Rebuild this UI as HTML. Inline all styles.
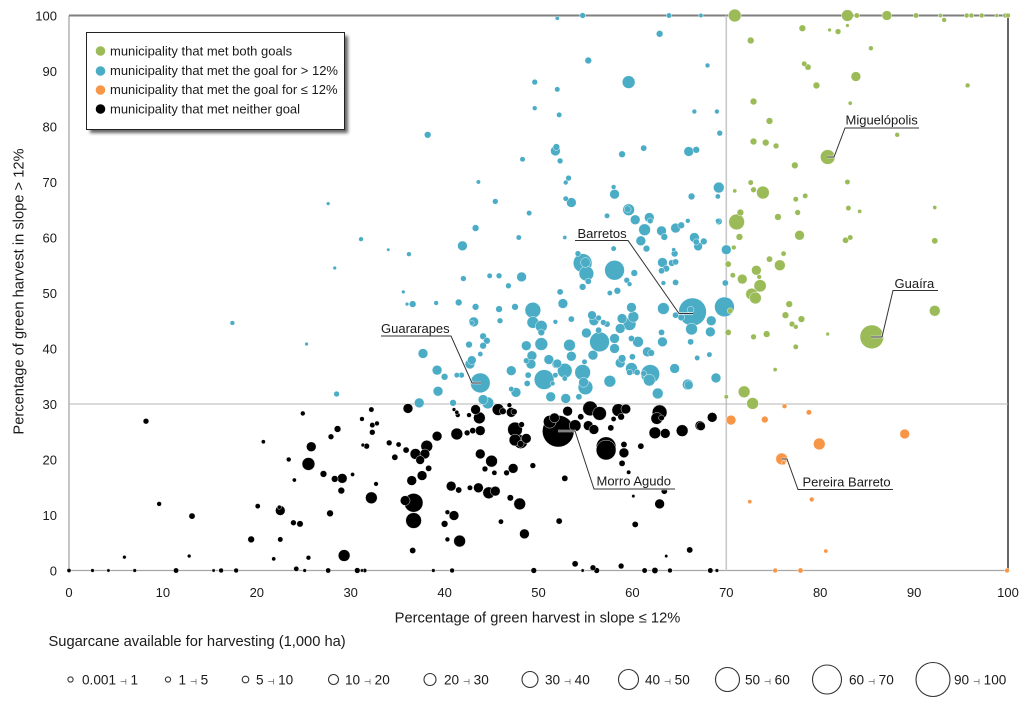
<!DOCTYPE html>
<html lang="en">
<head>
<meta charset="utf-8">
<title>Green harvest scatter chart</title>
<style>
html,body{margin:0;padding:0;background:#fff;}
body{width:1024px;height:709px;overflow:hidden;}
svg{display:block;font-family:"Liberation Sans",Arial,sans-serif;fill:#1a1a1a;filter:blur(0.3px);}
.tick{font-size:13px;}
.axis-title{font-size:14.7px;}
.legend-text{font-size:13px;}
.callout{font-size:13px;}
.size-text{font-size:13.6px;}
.arrow{font-family:"DejaVu Sans",sans-serif;font-size:8px;}
</style>
</head>
<body>
<svg id="chart" width="1024" height="709" viewBox="0 0 1024 709" xmlns="http://www.w3.org/2000/svg">
  <defs>
    <filter id="legendShadow" x="-5%" y="-10%" width="115%" height="125%"><feGaussianBlur stdDeviation="1.6"/></filter>
  </defs>
  <g id="axes"></g>
  <g id="marks"></g>
  <g id="ticks"></g>

  <text class="axis-title" x="537.5" y="622.5" text-anchor="middle">Percentage of green harvest in slope ≤ 12%</text>
  <text class="axis-title" transform="translate(23.5,291.5) rotate(-90)" text-anchor="middle">Percentage of green harvest in slope &gt; 12%</text>

  <g>
    <rect x="90" y="36" width="258" height="97" fill="#333" opacity="0.75" filter="url(#legendShadow)"/>
    <rect x="86.5" y="32.5" width="258" height="97" fill="#fff" stroke="#222" stroke-width="1"/>
    <g><circle cx="100.5" cy="51" r="4.8" fill="#9bbb59"/><text class="legend-text" x="110" y="55.5">municipality that met both goals</text></g>
    <g><circle cx="100.5" cy="71" r="4.8" fill="#4bacc6"/><text class="legend-text" x="110" y="75">municipality that met the goal for &gt; 12%</text></g>
    <g><circle cx="100.5" cy="90" r="4.8" fill="#f79646"/><text class="legend-text" x="110" y="94">municipality that met the goal for ≤ 12%</text></g>
    <g><circle cx="100.5" cy="109" r="4.8" fill="#000"/><text class="legend-text" x="110" y="113.5">municipality that met neither goal</text></g>
  </g>

  <g fill="none">
    <g>
      <polyline points="827,157 834,157 845,128 919,128" stroke="#fff" stroke-width="2.6" fill="none" opacity="0.8"/>
      <polyline points="827,157 834,157 845,128 919,128" stroke="#333" stroke-width="1" fill="none"/>
      <text class="callout" x="845.5" y="124.5" style="fill:#1a1a1a">Miguelópolis</text>
    </g>
    <g>
      <polyline points="871,337 882,337 893,290.5 938,290.5" stroke="#fff" stroke-width="2.6" fill="none" opacity="0.8"/>
      <polyline points="871,337 882,337 893,290.5 938,290.5" stroke="#333" stroke-width="1" fill="none"/>
      <text class="callout" x="894.5" y="288" style="fill:#1a1a1a">Guaíra</text>
    </g>
    <g>
      <polyline points="693,313.5 679,313.5 628,240.5 575,240.5" stroke="#fff" stroke-width="2.6" fill="none" opacity="0.8"/>
      <polyline points="693,313.5 679,313.5 628,240.5 575,240.5" stroke="#333" stroke-width="1" fill="none"/>
      <text class="callout" x="577.5" y="238" style="fill:#1a1a1a">Barretos</text>
    </g>
    <g>
      <polyline points="481,383 472,383 451,336 381,336" stroke="#fff" stroke-width="2.6" fill="none" opacity="0.8"/>
      <polyline points="481,383 472,383 451,336 381,336" stroke="#333" stroke-width="1" fill="none"/>
      <text class="callout" x="381" y="333" style="fill:#1a1a1a">Guararapes</text>
    </g>
    <g>
      <polyline points="558,431 575,431 594,489 675,489" stroke="#fff" stroke-width="2.6" fill="none" opacity="0.8"/>
      <polyline points="558,431 575,431 594,489 675,489" stroke="#333" stroke-width="1" fill="none"/>
      <text class="callout" x="596.5" y="485.5" style="fill:#1a1a1a">Morro Agudo</text>
    </g>
    <g>
      <polyline points="782,459 787,459 798,489.5 893,489.5" stroke="#fff" stroke-width="2.6" fill="none" opacity="0.8"/>
      <polyline points="782,459 787,459 798,489.5 893,489.5" stroke="#333" stroke-width="1" fill="none"/>
      <text class="callout" x="802.5" y="486.5" style="fill:#1a1a1a">Pereira Barreto</text>
    </g>
  </g>

  <text class="axis-title" x="48.5" y="646">Sugarcane available for harvesting (1,000 ha)</text>
  <g id="sizeLegend">
    <circle cx="70.5" cy="679.5" r="2.6" fill="#fff" stroke="#333" stroke-width="1.1"/>
    <text class="size-text" x="82" y="684.5">0.001 <tspan class="arrow">⊣</tspan> 1</text>
    <circle cx="168" cy="679.5" r="2.6" fill="#fff" stroke="#333" stroke-width="1.1"/>
    <text class="size-text" x="178.5" y="684.5">1 <tspan class="arrow">⊣</tspan> 5</text>
    <circle cx="245.5" cy="679.5" r="3.3" fill="#fff" stroke="#333" stroke-width="1.1"/>
    <text class="size-text" x="256" y="684.5">5 <tspan class="arrow">⊣</tspan> 10</text>
    <circle cx="333.5" cy="679.5" r="5" fill="#fff" stroke="#333" stroke-width="1.1"/>
    <text class="size-text" x="345" y="684.5">10 <tspan class="arrow">⊣</tspan> 20</text>
    <circle cx="430" cy="679.5" r="6" fill="#fff" stroke="#333" stroke-width="1.1"/>
    <text class="size-text" x="444" y="684.5">20 <tspan class="arrow">⊣</tspan> 30</text>
    <circle cx="530" cy="679.5" r="8" fill="#fff" stroke="#333" stroke-width="1.1"/>
    <text class="size-text" x="545" y="684.5">30 <tspan class="arrow">⊣</tspan> 40</text>
    <circle cx="628.5" cy="679.5" r="10" fill="#fff" stroke="#333" stroke-width="1.1"/>
    <text class="size-text" x="645" y="684.5">40 <tspan class="arrow">⊣</tspan> 50</text>
    <circle cx="727.5" cy="679.5" r="12" fill="#fff" stroke="#333" stroke-width="1.1"/>
    <text class="size-text" x="745" y="684.5">50 <tspan class="arrow">⊣</tspan> 60</text>
    <circle cx="827" cy="679.5" r="14.5" fill="#fff" stroke="#333" stroke-width="1.1"/>
    <text class="size-text" x="849" y="684.5">60 <tspan class="arrow">⊣</tspan> 70</text>
    <circle cx="933" cy="679.5" r="17" fill="#fff" stroke="#333" stroke-width="1.1"/>
    <text class="size-text" x="954" y="684.5">90 <tspan class="arrow">⊣</tspan> 100</text>
  </g>
</svg>

<script>
const xTickLabels = [0,10,20,30,40,50,60,70,80,90,100];
const yTickLabels = [0,10,20,30,40,50,60,70,80,90,100];
const xGoal = 70;
const yGoal = 30;

/* each point: [% green harvest slope <=12, % green harvest slope >12, sugarcane area] */
const bothGoals = [
[70.9,100,11.8],[82.9,100,9.9],[83.9,100,1.7],[87.1,100,6.6],[90.2,100,1.7],[92.8,100,.94],[95.6,100,1.3],[96.1,100,1.3],[97.2,100,1.3],[98.8,100,.73],[99.7,100,1.3],[100,100,1.3],
[93.2,99.2,1.3],[78.1,97.7,2.9],[81,97.4,.73],[81.9,97.1,2],[82.9,98.2,.73],[72.6,95.5,2.9],[85.4,94.1,1.3],[78.3,91.3,1.7],[78.7,90.7,2.4],[83.8,89,6.6],[95.7,87.4,1.3],[79.6,87.4,2.9],[72.9,84.5,2.9],[83.2,84.2,.94],[74.6,81,2.9],[88.2,78.5,1.3],[72.9,77.3,2.9],[74.2,77.1,2.9],[75.3,76.5,2],[80.8,74.5,16],[77.3,73,2.9],[72.6,69.9,1.7],[82.9,70,1.7],[70.9,68.4,.94],[72.9,68.6,2],[73.9,68.1,11.8],[78.4,67.5,1.7],[77.4,66.9,1.7],[83,65.3,1.7],[84.2,64.7,.94],[92.2,65.4,.94],[71.5,64.5,2.9],[77.6,64.5,2],[75.5,63.7,2.9],[71.1,62.8,18.4],
[71.4,60.1,2.9],[77.8,60.4,6.6],[82.7,59.5,2.4],[83.2,60,1.7],[92.2,59.4,2.4],[70.8,58.2,1.3],[76.1,57.1,1.6],[74.6,56.1,2.4],[75.7,55,8.2],[70.2,55.2,2.4],[73.2,54.1,6.6],[70.7,53.2,1.7],[73.5,52.9,1.3],[71.7,52.5,6.6],[73.6,51.3,10.8],[72.7,49.8,9.9],[73.1,49.1,9.9],[76.7,48,2.9],[92.2,46.8,8.2],[76.3,46,2.9],[78,45.3,2.9],[77,44.4,2],[77.4,43.9,1.3],[70.4,46.8,2],[70.2,42.9,2.4],[74.3,42.6,2.9],[72.9,42.1,2],[80.8,42.6,.73],[85.5,42.1,43],[77.4,40.3,1.7],[75.2,36.2,.94],[70,31.3,1.06],[71.9,32.2,9.9],[72.8,30.1,9.9]
];

const aboveGoalOnly = [
[27.6,66.1,.73],[31.1,59.7,1.3],[17.4,44.6,1.3],[25.3,40.8,.73],[28.5,31.8,2],[28.3,54.5,.73],[34,57.8,.55],[36.2,57,1.3],[35.6,50.2,.73],[36,48,.73],[39.1,48.2,1.3],
[43.3,61.7,2.9],[41.9,58.5,6.6],[47.9,60,1.7],[49,64.4,1.7],[42,52.6,2],[44.8,53.1,1.7],[45.8,53.1,2],[48.2,52.9,6.6],[46.8,51.3,2],[36.6,48,2.9],[41.5,48.3,2.9],[43.3,47.5,2.9],[45.8,47.1,2.9],[47.5,47.5,2.9],[49.4,46.9,18.4],[43.1,44.8,6.6],[42.9,44.6,1.3],[45.9,45,2],[49.4,44.7,9.9],[50.3,44,9.9],[51.8,44.8,1.3],[50.3,42.9,2.9],[37.7,39.1,6.6],[44.1,42.2,2.9],[44.5,41.4,2.9],[42.6,40.7,2.9],[44.1,40.5,2.9],[43.8,39,1.6],[48.7,40.5,6.6],[50.3,40.8,11.8],[49.3,38.7,6.6],[51.1,38,6.6],[51.9,37.2,5.2],[48.7,37.8,2],[49.2,37.2,6.6],[42.9,37.9,5.2],[42.7,37.2,6.6],[47.1,36,6.6],[39.2,36.1,6.6],[40,34.9,2.9],[41.3,35.2,1.7],[41.8,35.2,2],[43.8,33.8,29.5],[48.9,35.2,2.4],[50.6,34.4,29.5],[51.8,35.2,1.7],[48.8,33.7,2.4],[51.5,33.7,1.3],[39.3,32.3,6.6],[47.6,32.1,6.6],[47.1,32.7,1.7],[51.3,31.3,6.6],[44.1,30.8,6.6],[44.6,30.2,9.9],[40.9,30.2,2.9],[37.3,30.2,6.6],
[52,99.5,.94],[54.7,100,2],[63.9,100,1.7],[67.3,100,1.06],[62.9,96.7,2.9],[55.3,91.9,2.9],[68,91,1.3],[59.6,88,11.8],[49.6,88,2],[52,86.7,1.7],[49.6,83.3,1.3],[52.2,82.1,1.7],[66.6,82.7,1.3],[69,82.7,1.3],[69.3,78.8,2],[38.2,78.5,2.9],[51.8,75.6,6.6],[51.9,76.3,2.9],[58.9,75,2.9],[61.2,76.1,2.4],[66,75.5,6.6],[66.8,75.8,2.9],[48.3,74.1,1.7],[52.3,73.8,2],[53.2,70.7,2],[52.9,69.9,1.3],[43.6,70,1.06],[58,69.1,1.3],[58.1,67.8,6.6],[69.2,69,8.2],[66.3,67.4,2.9],[69.1,67.4,1.6],[45.4,66.5,2],[52.9,67,1.7],[53.5,66.3,6.6],[57.3,63.9,1.7],[59.6,65,9.9],[59.5,65.1,2.9],[61.8,63.6,6.6],[60.3,63.2,6.6],[65.9,63,1.3],[69.1,63,1.3],
[61.9,63,2],[61.3,61.4,9.9],[63.1,61.2,6.6],[63.4,60.1,2.9],[64.6,61.7,6.6],[65.2,62.2,2.9],[69.2,62.9,2.9],[66.6,60,6.6],[66.8,59.2,2.4],[67.6,59.3,2.9],[67,58.4,5.2],[70,57.8,6.6],[60.9,59.4,6.6],[61.5,58,2.9],[52.8,60,.94],[58,58,1.7],[64.4,57.8,.94],[64.5,57.1,2.9],[54.7,55.4,26.4],[55,55.5,6.6],[54.2,57.1,2],[55.1,53.5,16],[55.3,52.1,2.4],[54.7,51.1,2.9],[58.1,54.1,29.5],[60.2,53.6,2.9],[59.4,52.3,2],[59.7,51.6,1.3],[58.4,50.4,2.9],[57.6,50,1.7],[63.2,55.5,6.6],[63.1,54,2.4],[63.6,54.4,2.9],[64.2,55.4,2.9],[64.6,55.6,2.4],[63.3,51.8,1.3],[64.6,51.9,2.4],[69.9,51.8,2.4],[52.3,50.2,2.4],[52.6,48.1,6.6],[63.3,47.2,9.9],[66.4,46.6,59.5],[66.2,47,2.9],[69.8,47.5,29.5],[64.6,46,2.4],[65.2,45.6,2.9],[68.4,45,6.6],[66.3,43.5,9.9],[68.3,43,6.6],[59.9,47.4,6.6],[60.1,45.7,8.2],[58.9,45.4,6.6],[59.7,44.4,11.8],[55.7,46,5.2],[55.9,45,6.6],[56.4,45.5,2],[56.9,44.7,2],[57.3,44.4,2.4],[58.7,43.6,6.6],[53.5,45.3,2.4],[56.4,43.3,2.4],[55.1,42.8,6.6],[56.5,41.2,29.5],[58.1,41.8,6.6],[58.1,40,6.6],[59.9,41.8,2.4],[60.6,41.2,8.2],[63.1,42.9,2.4],[63.2,41.2,6.6],[66.2,41.2,2.4],[53.3,40.6,9.9],[61.6,39.4,6.6],[62,39.2,2.9],[55.8,38.8,6.6],[53.5,38.6,6.6],[58.9,38.2,4],[58.7,37.4,6.6],[60,38.5,2.4],[66.9,38.3,1.7],[68.2,38.9,1.7],[52,37.3,5.2],[54.9,37.6,1.7],[52.8,36,16],[54.7,35.7,18.4],[59.9,36.4,9.9],[64.5,36.4,6.6],[59.7,35.7,2.4],[60.5,35.7,2.4],[61.9,35.4,26.4],[61.2,35.5,2],[61.8,34.3,9.9],[52.8,34.6,1.7],[54.8,33.9,6.6],[55,33,16],[57.6,34.1,9.9],[65.9,33.5,8.2],[66,33.4,5.2],[68.9,34.7,6.6],[52.9,31,6.6],[54.3,31.3,2.4],[62.7,31.9,8.2]
];

const belowGoalOnly = [
[76.2,29.6,1.3],[78.8,28.5,1.7],[70.5,27.1,6.6],[74.1,27.2,2.9],[89,24.6,6.6],[79.9,22.8,9.9],[75.9,20.1,9.9],[76.1,19.4,.94],[72.5,12.4,.94],[79.1,12.8,1.3],[80.6,3.5,.94],[75.2,0,1.3],[77.9,0,1.6],[99.9,0,1.3]
];

const neitherGoal = [
[24.9,28.3,1.3],[8.2,26.9,2],[28.6,25.5,2.9],[27.9,24.1,2],[20.7,23.2,.94],[25.8,22.3,6.6],[23.4,20,1.3],[25.5,19.2,11.8],[27.1,17.4,2.9],[30.2,17.3,.94],[28.3,16.5,2.9],[29.1,16.6,6.6],[24,16.3,.94],[29,14.4,2.9],[9.6,12,1.3],[20.1,11.6,1.6],[22.5,10.8,6.6],[22.4,11.4,.94],[13.1,9.8,2.4],[27.8,10.3,2.9],[23.9,8.6,2],[24.6,8.4,2.6],[19.4,5.6,2.9],[22.5,5.6,1.7],[5.9,2.4,.73],[12.8,2.6,.73],[21.8,2.1,.94],[25.5,2.3,1.3],[29.3,2.7,9.9],
[0,0,.94],[2.5,0,.73],[4.2,0,.55],[7,0,.73],[11.4,0,1.7],[15.4,0,.55],[16.2,0,1.3],[17.8,0,1.3],[24.2,.3,1.6],[25.1,0,.73],[27.6,0,1.6],[30.7,0,2],[31.5,0,.94],[31.2,0,.55],[38.8,0,.73],[40.8,0,1.3],[49.5,0,2],[54.7,0,.55],[56.2,0,2],[55.8,.5,2],[58.8,.8,2],[53.9,1.2,2.4],[61.3,0,1.7],[62.4,0,2.4],[64,0,1.3],[68.3,0,1.7],[69,0,.73],[66.1,3.7,2.4],[63.6,2.6,.55],[68.5,27.6,6.6],[67.3,26,5.2],
[32.2,29,1.7],[36.1,29.2,6.6],[41,29,.73],[41.3,28.5,.94],[41.4,28,1.3],[42.6,28,1.3],[43.3,29,6.6],[43.7,27.5,9.9],[45.7,29,9.9],[46.2,28.7,2.9],[47.1,28.5,6.6],[47.4,28.6,2.4],[46.9,29.8,1.3],[31.2,27.3,1.3],[32.3,26.2,1.7],[32.8,26.5,1.3],[32.3,24.9,2],[31.3,22.6,.73],[31.7,22.4,2],[34.1,23,2],[35.1,22.7,1.6],[35.9,21.7,2.4],[34.7,20.4,2.4],[38.1,22.4,9.9],[39.2,24.2,6.6],[36.9,21,8.2],[37.9,21,6.6],[37.4,19.9,5.2],[38.3,18.4,2.4],[37.6,17.1,6.6],[36.5,16.2,6.6],[32.7,15.6,1.2],[32.2,13.1,9.9],[35.8,12.6,6.6],[36.7,12.2,26.4],[36.7,9,18.4],[36.6,3.6,2.4],
[41.3,24.6,9.9],[42.4,24.8,2],[43,25.2,2.4],[43.8,25.2,6.6],[43.8,21,6.6],[45,19.7,9.9],[44.3,18.3,2],[45.3,17.6,1.6],[46.6,17.6,2],[47.3,18.4,6.6],[49.4,18.9,2],[40.7,15.2,6.6],[41.5,14.5,2.4],[42.7,14.9,1.7],[43.6,14.9,6.6],[44.7,14,9.9],[45.4,14.3,6.6],[47,13.1,2.6],[48,12,9.9],[40.3,10.5,1.3],[41,9.9,6.6],[40,8.4,2.9],[46,8.8,1.6],[48.5,6.6,6.6],[40.3,5.6,1.3],[41.6,5.3,9.9],
[47.5,25.4,16],[48.2,26.3,2],[47.5,23.5,9.9],[48.1,23.2,13.8],[48.1,22.8,2.9],[48.7,23.8,6.6],[52.1,25.1,78],[51.2,26.8,11.8],[51.7,27.5,6.6],[53.1,28.7,6.6],[53.9,26.1,9.9],[54.5,27.7,2.4],[55.5,29.2,16],[56.5,28.3,13.8],[55.3,26.1,6.6],[55.9,25.4,6.6],[57.7,25.7,2.4],[58,27.3,1.6],[58.8,27.7,2.9],[58.5,28.9,11.8],[59.3,29.1,6.6],[57.2,22.3,29.5],[57.2,21.7,29.5],[59.1,22.7,2.4],[59.1,21.2,6.6],[58.9,19.3,2.4],[60.9,22.4,2.4],[59.6,17.7,1.06],[52.8,16.6,2.4],[52.2,8.9,2.4],[60.1,13.4,.55],[62.9,12,6.6],[63.4,14.3,2.4],[60.3,8.3,2.4],[62.9,28.5,16],[62.6,27.4,9.9],[63.1,27.5,2],[62.4,24.8,9.9],[63.5,24.7,6.6],[65.3,25.2,9.9],[67.2,26.1,6.6]
];

function sx(v){ return 69 + v * 9.39; }
function sy(v){ return 570.5 - v * 5.55; }
function sr(v){ return 1.75 * Math.sqrt(v) + 0.4; }

const NS = 'http://www.w3.org/2000/svg';
const axesG = document.getElementById('axes');
const marksG = document.getElementById('marks');
const ticksG = document.getElementById('ticks');

function axisLine(name, x1, y1, x2, y2, color, width){
  const l = document.createElementNS(NS, 'line');
  l.setAttribute('x1', x1);
  l.setAttribute('y1', y1);
  l.setAttribute('x2', x2);
  l.setAttribute('y2', y2);
  l.setAttribute('stroke', color);
  l.setAttribute('stroke-width', width);
  
  
  axesG.appendChild(l);
}
axisLine('left-axis', sx(0), sy(100), sx(0), sy(0), '#a6a6a6', 1.3);
axisLine('bottom-axis', sx(0), sy(0), sx(100), sy(0), '#a6a6a6', 1.2);
axisLine('top-axis', sx(0), sy(100), sx(100), sy(100), '#7f7f7f', 2);
axisLine('right-axis', sx(100), sy(100), sx(100), sy(0), '#666666', 2);
axisLine('x-goal-line', sx(xGoal), sy(100), sx(xGoal), sy(0), '#c8c8c8', 1.6);
axisLine('y-goal-line', sx(0), sy(yGoal), sx(100), sy(yGoal), '#b4b4b4', 1.1);

xTickLabels.forEach(function(v){
  const t = document.createElementNS(NS, 'text');
  t.setAttribute('class', 'tick');
  t.setAttribute('x', sx(v));
  t.setAttribute('y', 597);
  t.setAttribute('text-anchor', 'middle');
  
  
  t.textContent = v;
  ticksG.appendChild(t);
});
yTickLabels.forEach(function(v){
  const t = document.createElementNS(NS, 'text');
  t.setAttribute('class', 'tick');
  t.setAttribute('x', 57);
  t.setAttribute('y', sy(v) + 5);
  t.setAttribute('text-anchor', 'end');
  
  
  t.textContent = v;
  ticksG.appendChild(t);
});

const allPoints = [];
neitherGoal.forEach(function(p){ allPoints.push({p:p, fill:'#000000', kind:'neither'}); });
belowGoalOnly.forEach(function(p){ allPoints.push({p:p, fill:'#f79646', kind:'below-12'}); });
bothGoals.forEach(function(p){ allPoints.push({p:p, fill:'#9bbb59', kind:'both'}); });
aboveGoalOnly.forEach(function(p){ allPoints.push({p:p, fill:'#4bacc6', kind:'above-12'}); });
allPoints.sort(function(a,b){ return b.p[2] - a.p[2]; });
allPoints.forEach(function(d){
  const c = document.createElementNS(NS, 'circle');
  c.setAttribute('cx', sx(d.p[0]));
  c.setAttribute('cy', sy(d.p[1]));
  c.setAttribute('r', sr(d.p[2]));
  c.setAttribute('fill', d.fill);
  c.setAttribute('stroke', '#ffffff');
  c.setAttribute('stroke-width', '0.5');
  c.setAttribute('stroke-opacity', '0.85');
  
  
  marksG.appendChild(c);
});
</script>
</body>
</html>
